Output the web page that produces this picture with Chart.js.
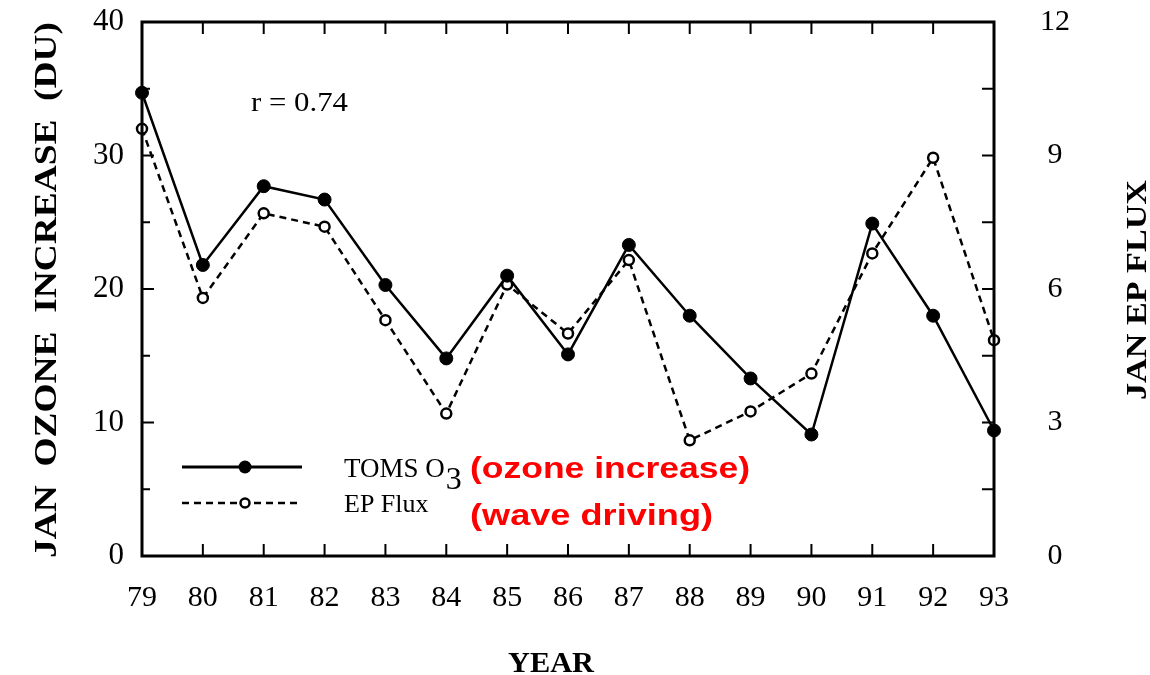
<!DOCTYPE html>
<html>
<head>
<meta charset="utf-8">
<script src="https://cdn.jsdelivr.net/npm/chart.js@4.4.1/dist/chart.umd.min.js"></script>
<style>
  html, body { margin: 0; padding: 0; background: #fff; }
  #wrap { width: 1150px; height: 675px; position: relative; }
</style>
</head>
<body>
<div id="wrap"><canvas id="c" width="1150" height="675"></canvas></div>
<script>
// Jan ozone increase vs. EP flux, 1979-1993
const YEARS = ['79', '80', '81', '82', '83', '84', '85', '86', '87', '88', '89', '90', '91', '92', '93'];
const TOMS_O3 = [34.7, 21.8, 27.7, 26.7, 20.3, 14.8, 21.0, 15.1, 23.3, 18.0, 13.3, 9.1, 24.9, 18.0, 9.4];
const EP_FLUX = [9.6, 5.8, 7.7, 7.4, 5.3, 3.2, 6.1, 5.0, 6.65, 2.6, 3.25, 4.1, 6.8, 8.95, 4.85];
const LEFT_TICKS = [0, 10, 20, 30, 40];
const RIGHT_TICKS = [0, 3, 6, 9, 12];

const SERIF = '"Liberation Serif", "DejaVu Serif", serif';
const INK = '#000';

// text squeezed/stretched to a given length
function fitText(ctx, text, x, y, len) {
  const w = ctx.measureText(text).width;
  ctx.save();
  ctx.translate(x, y);
  ctx.scale(len / w, 1);
  ctx.fillText(text, 0, 0);
  ctx.restore();
}

// frame, inward ticks, legend and annotations
const decor = {
  id: 'decor',
  afterDatasetsDraw(chart) {
    const { ctx, chartArea: a, scales } = chart;
    const x = scales.x, y = scales.y, y1 = scales.y1;
    ctx.save();
    ctx.strokeStyle = INK;
    ctx.lineWidth = 3;
    ctx.strokeRect(a.left, a.top, a.right - a.left, a.bottom - a.top);

    ctx.lineWidth = 2;
    ctx.beginPath();
    YEARS.forEach((_, i) => {
      if (i === 0 || i === YEARS.length - 1) return;
      const px = x.getPixelForValue(i);
      ctx.moveTo(px, a.bottom); ctx.lineTo(px, a.bottom - 12);
      ctx.moveTo(px, a.top); ctx.lineTo(px, a.top + 12);
    });
    for (let v = 5; v < 40; v += 5) {
      const py = y.getPixelForValue(v);
      ctx.moveTo(a.left, py); ctx.lineTo(a.left + (v % 10 === 0 ? 12 : 8), py);
    }
    for (let v = 1.5; v < 12; v += 1.5) {
      const py = y1.getPixelForValue(v);
      ctx.moveTo(a.right, py); ctx.lineTo(a.right - 12, py);
    }
    ctx.stroke();

    // legend
    const ly1 = 467, ly2 = 503;
    ctx.lineWidth = 3;
    ctx.setLineDash([]);
    ctx.beginPath(); ctx.moveTo(182, ly1); ctx.lineTo(302, ly1); ctx.stroke();
    ctx.fillStyle = INK;
    ctx.beginPath(); ctx.arc(245, ly1, 6.5, 0, Math.PI * 2); ctx.fill();
    ctx.lineWidth = 2.5;
    ctx.setLineDash([7, 5]);
    ctx.beginPath(); ctx.moveTo(182, ly2); ctx.lineTo(302, ly2); ctx.stroke();
    ctx.setLineDash([]);
    ctx.fillStyle = '#fff';
    ctx.beginPath(); ctx.arc(245, ly2, 4.5, 0, Math.PI * 2); ctx.fill(); ctx.stroke();

    ctx.fillStyle = INK;
    ctx.textBaseline = 'alphabetic';
    ctx.textAlign = 'left';
    ctx.font = '27px ' + SERIF;
    ctx.fillText('TOMS O', 344, 477);
    const w = ctx.measureText('TOMS O').width;
    ctx.font = '32px ' + SERIF;
    ctx.fillText('3', 344 + w + 1, 489);
    ctx.font = '26px ' + SERIF;
    ctx.fillText('EP Flux', 344, 512);
    ctx.font = '28px ' + SERIF;
    fitText(ctx, 'r = 0.74', 251, 111, 97);

    ctx.fillStyle = '#f00';
    ctx.font = 'bold 30px "Liberation Sans", Arial, sans-serif';
    fitText(ctx, '(ozone increase)', 470, 478, 280);
    fitText(ctx, '(wave driving)', 470, 525, 243);

    // axis titles
    ctx.fillStyle = INK;
    ctx.font = 'bold 30px ' + SERIF;
    ctx.textAlign = 'left';
    fitText(ctx, 'YEAR', 508, 672, 86);
    ctx.save();
    ctx.translate(56, 558);
    ctx.rotate(-Math.PI / 2);
    ctx.font = 'bold 32px ' + SERIF;
    fitText(ctx, 'JAN  OZONE  INCREASE  (DU)', 0, 0, 536);
    ctx.restore();
    ctx.save();
    ctx.translate(1146, 400);
    ctx.rotate(-Math.PI / 2);
    fitText(ctx, 'JAN EP FLUX', 0, 0, 220);
    ctx.restore();
    ctx.restore();
  }
};

new Chart(document.getElementById('c'), {
  type: 'line',
  data: {
    labels: YEARS,
    datasets: [
      {
        label: 'TOMS O3',
        data: TOMS_O3,
        yAxisID: 'y',
        borderColor: INK,
        borderWidth: 2.5,
        pointRadius: 6.5,
        pointBackgroundColor: INK,
        pointBorderColor: INK,
        pointBorderWidth: 1,
        tension: 0,
        clip: false
      },
      {
        label: 'EP Flux',
        data: EP_FLUX,
        yAxisID: 'y1',
        borderColor: INK,
        borderWidth: 2.5,
        borderDash: [7, 5],
        pointRadius: 5,
        pointBackgroundColor: '#fff',
        pointBorderColor: INK,
        pointBorderWidth: 2.5,
        tension: 0,
        clip: false
      }
    ]
  },
  options: {
    responsive: false,
    animation: false,
    layout: { padding: { top: 22, left: 0, right: 0, bottom: 0 } },
    plugins: { legend: { display: false }, tooltip: { enabled: false } },
    scales: {
      x: {
        offset: false,
        grid: { display: false },
        border: { display: false },
        ticks: { color: INK, padding: 16, maxRotation: 0, autoSkip: false, font: { family: SERIF, size: 30 } },
        afterFit(s) { s.height = 119; s.paddingLeft = 0; s.paddingRight = 0; }
      },
      y: {
        position: 'left',
        min: 0, max: 40,
        afterBuildTicks(s) { s.ticks = LEFT_TICKS.map(v => ({ value: v })); },
        grid: { display: false },
        border: { display: false },
        ticks: { color: INK, padding: 10, font: { family: SERIF, size: 31 } },
        afterFit(s) { s.width = 142; s.paddingTop = 0; s.paddingBottom = 0; }
      },
      y1: {
        position: 'right',
        min: 0, max: 12,
        afterBuildTicks(s) { s.ticks = RIGHT_TICKS.map(v => ({ value: v })); },
        grid: { display: false },
        border: { display: false },
        ticks: { color: INK, padding: 38, crossAlign: 'center', font: { family: SERIF, size: 30 } },
        afterFit(s) { s.width = 156; s.paddingTop = 0; s.paddingBottom = 0; }
      }
    }
  },
  plugins: [decor]
});
</script>
</body>
</html>
